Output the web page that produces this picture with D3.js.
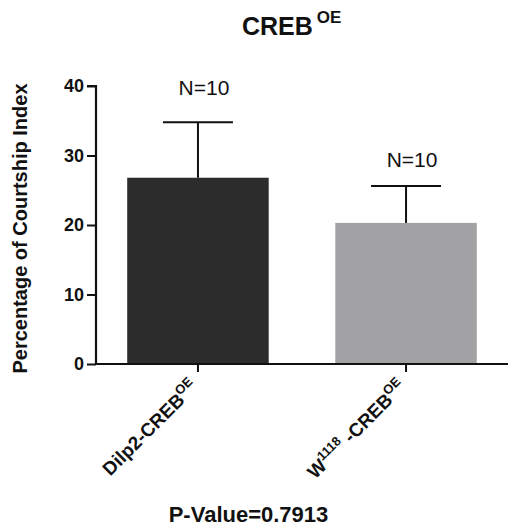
<!DOCTYPE html>
<html>
<head>
<meta charset="utf-8">
<script src="https://cdn.jsdelivr.net/npm/d3@7"></script>
<style>
  html, body { margin: 0; padding: 0; background: #fff; }
  svg { display: block; }
  text { font-family: "Liberation Sans", Arial, sans-serif; fill: #111; }
</style>
</head>
<body>
<svg id="chart" width="508" height="527"></svg>
<script>
// ---- data ----
const categories = ["Dilp2-CREB", "W-CREB"];
const means = [26.8, 20.3];
const errors = [8.0, 5.3];
const nLabels = ["N=10", "N=10"];
const barColors = ["#2c2c2c", "#a2a2a4"];
const yTicks = [0, 10, 20, 30, 40];
const titleText = "CREB";
const titleSup = "OE";
const yLabel = "Percentage of Courtship Index";
const pValueText = "P-Value=0.7913";

const svg = d3.select("#chart");

const y = d3.scaleLinear().domain([0, 40]).range([364, 86]);
const x = d3.scaleBand().domain(categories).range([96, 508])
  .paddingInner(0.32).paddingOuter(0.15);

// bars
svg.selectAll("rect.bar").data(categories).enter().append("rect")
  .attr("class", "bar")
  .attr("x", d => x(d))
  .attr("width", x.bandwidth())
  .attr("y", (d, i) => y(means[i]))
  .attr("height", (d, i) => y(0) - y(means[i]))
  .attr("fill", (d, i) => barColors[i]);

// error bars (upper only)
const capHalf = 35;
categories.forEach((c, i) => {
  const cx = x(c) + x.bandwidth() / 2;
  svg.append("line").attr("x1", cx).attr("x2", cx)
    .attr("y1", y(means[i])).attr("y2", y(means[i] + errors[i]))
    .attr("stroke", "#111").attr("stroke-width", 2);
  svg.append("line").attr("x1", cx - capHalf).attr("x2", cx + capHalf)
    .attr("y1", y(means[i] + errors[i])).attr("y2", y(means[i] + errors[i]))
    .attr("stroke", "#111").attr("stroke-width", 2);
});

// N labels
const nOffsets = [27, 19];
categories.forEach((c, i) => {
  const cx = x(c) + x.bandwidth() / 2;
  svg.append("text").attr("x", cx + 6).attr("y", y(means[i] + errors[i]) - nOffsets[i])
    .attr("text-anchor", "middle").attr("font-size", 21).text(nLabels[i]);
});

// y axis
const yAxis = d3.axisLeft(y).tickValues(yTicks).tickSize(9).tickPadding(3);
const gy = svg.append("g").attr("transform", "translate(96,0)").call(yAxis);
gy.select(".domain").attr("stroke", "#111").attr("stroke-width", 2.2)
  .attr("d", `M-9,${y(40)}H0V${y(0)}`);
gy.selectAll(".tick line").attr("stroke", "#111").attr("stroke-width", 2);
gy.selectAll(".tick text").attr("font-size", 18).attr("font-weight", "bold")
  .attr("font-family", "'Liberation Sans', Arial, sans-serif").attr("fill", "#111");

// x axis
const xAxis = d3.axisBottom(x).tickSize(8).tickFormat("");
const gx = svg.append("g").attr("transform", `translate(0,${y(0)})`).call(xAxis);
gx.select(".domain").attr("stroke", "#111").attr("stroke-width", 2.2)
  .attr("d", `M96,0H508`);
gx.selectAll(".tick line").attr("stroke", "#111").attr("stroke-width", 2);

// x labels (rotated)
categories.forEach((c, i) => {
  const cx = x(c) + x.bandwidth() / 2;
  const t = svg.append("text")
    .attr("transform", `translate(${cx + 1},${y(0) + 24}) rotate(-45)`)
    .attr("text-anchor", "end").attr("font-size", 19).attr("font-weight", "bold");
  if (i === 0) {
    t.append("tspan").text("Dilp2-CREB");
    t.append("tspan").attr("font-size", 13).attr("dy", -8).text("OE");
  } else {
    t.append("tspan").text("W");
    t.append("tspan").attr("font-size", 13).attr("dy", -8).text("1118");
    t.append("tspan").attr("dy", 8).text(" -CREB");
    t.append("tspan").attr("font-size", 13).attr("dy", -8).text("OE");
  }
});

// title
const tt = svg.append("text").attr("x", 242).attr("y", 35)
  .attr("font-size", 25).attr("font-weight", "bold");
tt.append("tspan").text(titleText);
tt.append("tspan").attr("font-size", 17).attr("dx", 4).attr("dy", -12).text(titleSup);

// y label
svg.append("text").attr("transform", `translate(27,${(82 + 375) / 2}) rotate(-90)`)
  .attr("text-anchor", "middle").attr("font-size", 20).attr("font-weight", "bold")
  .text(yLabel);

// p-value
svg.append("text").attr("x", 248.5).attr("y", 522).attr("text-anchor", "middle")
  .attr("font-size", 22).attr("font-weight", "bold").text(pValueText);
</script>
</body>
</html>
